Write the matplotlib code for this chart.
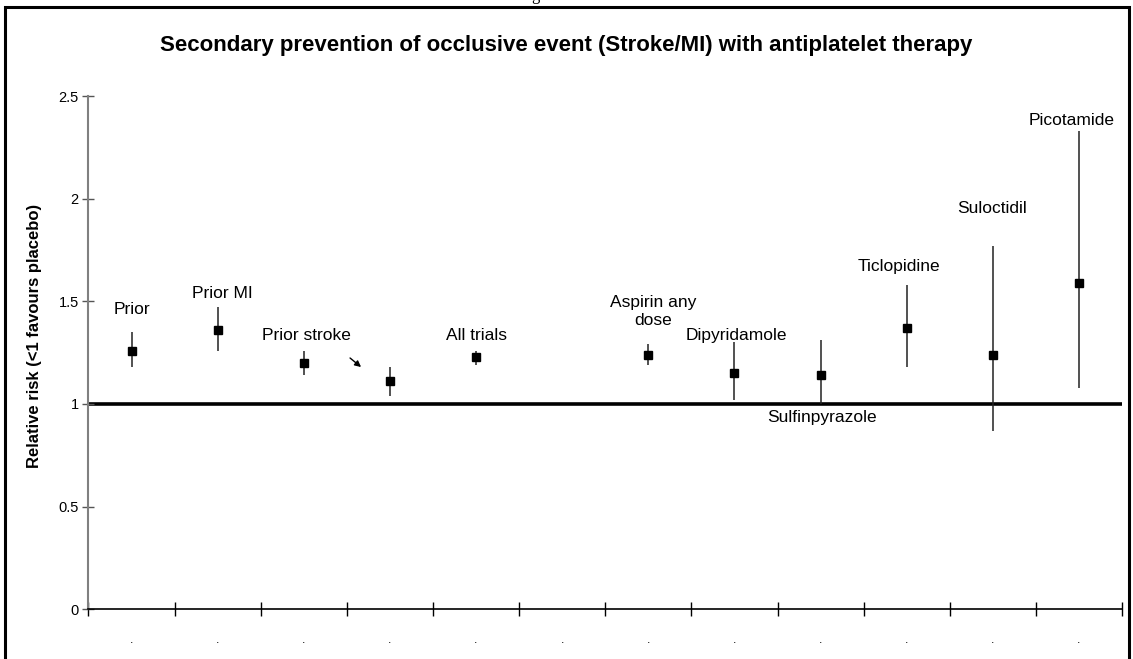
import numpy as np
import matplotlib
matplotlib.use("Agg")
import matplotlib.pyplot as plt
from matplotlib.patches import Rectangle

plt.rcParams['font.family'] = ['Liberation Sans', 'DejaVu Sans']

# relative risk with 95% CI for each trial group (nan = empty slot)
names = ["Prior", "Prior MI", "Prior stroke", "", "All trials", "",
         "Aspirin any\ndose", "Dipyridamole", "Sulfinpyrazole",
         "Ticlopidine", "Suloctidil", "Picotamide"]
rr = [1.26, 1.36, 1.20, 1.11, 1.23, np.nan, 1.24, 1.15, 1.14, 1.37, 1.24, 1.59]
lo = [1.18, 1.26, 1.14, 1.04, 1.19, np.nan, 1.19, 1.02, 1.00, 1.18, 0.87, 1.08]
hi = [1.35, 1.47, 1.26, 1.18, 1.26, np.nan, 1.29, 1.30, 1.31, 1.58, 1.77, 2.33]
yticks = [0, 0.5, 1, 1.5, 2, 2.5]
ytick_labels = ["0", "0.5", "1", "1.5", "2", "2.5"]

# where each name sits (x, y in data units)
label_pos = [(0.0, 1.458), (1.054, 1.539), (2.026, 1.336), None, (4.0, 1.336), None,
             (6.06, 1.45), (7.017, 1.336), (8.02, 0.932), (8.913, 1.672),
             (9.99, 1.95), (10.91, 2.38)]

x = np.arange(len(rr))
rr = np.array(rr)
lo = np.array(lo)
hi = np.array(hi)

fig = plt.figure(figsize=(11.33, 6.59), dpi=100)
ax = fig.add_axes([0.0781, 0.0754, 0.9122, 0.7789])

ax.axhline(1, color='black', lw=2.6, zorder=1)
ax.vlines(x, lo, hi, color='#222222', lw=1.1, zorder=2)
ax.plot(x, rr, 's', color='black', ms=5.2, zorder=3)

for name, pos in zip(names, label_pos):
    if pos is None:
        continue
    ax.text(pos[0], pos[1], name, ha='center', va='center', fontsize=12.5,
            linespacing=1.25)

# arrow pointing at the unlabelled estimate
ax.annotate("", xy=(2.665, 1.180), xytext=(2.537, 1.224),
            arrowprops=dict(arrowstyle='-|>', color='black', lw=1.0,
                            mutation_scale=9, shrinkA=0, shrinkB=0))

ax.set_xlim(-0.5, len(rr) - 0.5)
ax.set_ylim(0, 2.5)

ax.spines['top'].set_visible(False)
ax.spines['right'].set_visible(False)
ax.spines['left'].set_color('#808080')
ax.spines['left'].set_linewidth(1.5)
ax.spines['bottom'].set_color('black')
ax.spines['bottom'].set_linewidth(1.2)

ax.set_yticks(yticks)
ax.set_yticklabels(ytick_labels)
ax.tick_params(axis='y', direction='inout', length=8, width=1.0, color='#555555',
               labelsize=10.5, pad=3)

ax.set_xticks(x)
ax.set_xticklabels(["."] * len(x))
ax.tick_params(axis='x', which='major', length=0, labelsize=9, pad=18)
ax.set_xticks(np.arange(-0.5, len(x)), minor=True)
ax.tick_params(axis='x', which='minor', direction='inout', length=10, width=1.0,
               color='black')

ax.set_ylabel("Relative risk (<1 favours placebo)", fontsize=12, fontweight='bold')
ax.yaxis.set_label_coords(-0.045, 0.532)

fig.text(0.5, 1 - 45 / 659,
         "Secondary prevention of occlusive event (Stroke/MI) with antiplatelet therapy",
         ha='center', va='center', fontsize=16, fontweight='bold')

# frame around the chart, bottom edge runs off the page
fig.add_artist(Rectangle((4.5 / 1133, -0.05), 1124 / 1133, 1.05 - 7 / 659,
                         transform=fig.transFigure, fill=False, lw=2.2,
                         edgecolor='black'))
fig.text(535 / 1133, 1.0, "g", ha='center', va='baseline', fontsize=12,
         family='Liberation Serif')

fig.savefig("out.png", dpi=100)
